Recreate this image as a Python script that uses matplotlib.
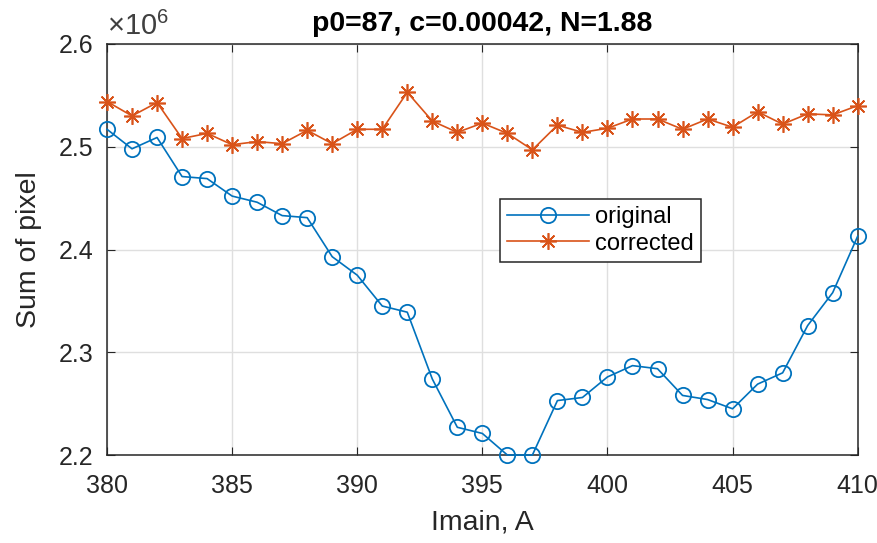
import numpy as np
import matplotlib
matplotlib.use("Agg")
import matplotlib.pyplot as plt

# Imain current, A
imain = np.arange(380, 411)

# sum of pixel, x1e6
original = [2.517, 2.498, 2.509, 2.471, 2.469, 2.452, 2.446, 2.433, 2.431, 2.393,
            2.375, 2.345, 2.339, 2.274, 2.227, 2.221, 2.200, 2.200, 2.253, 2.256,
            2.276, 2.287, 2.284, 2.258, 2.254, 2.245, 2.269, 2.280, 2.326, 2.358,
            2.413]
corrected = [2.544, 2.530, 2.543, 2.508, 2.513, 2.502, 2.505, 2.503, 2.516, 2.503,
             2.517, 2.517, 2.553, 2.525, 2.514, 2.523, 2.513, 2.497, 2.521, 2.514,
             2.518, 2.527, 2.527, 2.517, 2.527, 2.519, 2.534, 2.522, 2.532, 2.531,
             2.540]

plt.rcParams["font.family"] = ["Liberation Sans", "DejaVu Sans"]
plt.rcParams["mathtext.fontset"] = "custom"
plt.rcParams["mathtext.rm"] = "Liberation Sans"

fig = plt.figure(figsize=(8.77, 5.43), dpi=100)
ax = fig.add_axes([0.122, 0.162, 0.856, 0.757])

ax.plot(imain, original, "-o", color="#0072BD", lw=1.2, ms=11, mfc="none", mew=1.3,
        label="original", clip_on=False, zorder=3)
# MATLAB-like asterisk: 8 arms
ax.plot(imain, corrected, "-", marker=(8, 2, 0), color="#D95319", lw=1.2, ms=12,
        mew=1.2, label="corrected", clip_on=False, zorder=3)

ax.set_xlim(380, 410)
ax.set_ylim(2.2, 2.6)
ax.set_xticks(np.arange(380, 411, 5))
ax.set_yticks([2.2, 2.3, 2.4, 2.5, 2.6])
ax.set_yticklabels(["2.2", "2.3", "2.4", "2.5", "2.6"])
ax.grid(True, color="#dfdfdf", lw=1.0)
ax.set_axisbelow(True)
ax.tick_params(direction="in", length=6, labelsize=18, colors="#262626",
               top=True, right=True, labeltop=False, labelright=False)
ax.tick_params(axis="x", pad=14)
ax.tick_params(axis="y", pad=10)
for s in ax.spines.values():
    s.set_color("#262626")
    s.set_linewidth(1.1)

ax.set_xlabel("Imain, A", fontsize=20.5, color="#262626", labelpad=8)
ax.set_ylabel("Sum of pixel", fontsize=20.5, color="#262626", labelpad=12)
ax.set_title("p0=87, c=0.00042, N=1.88", fontsize=20.5, fontweight="bold", pad=9)
ax.text(0.0, 1.008, r"$\times10^{6}$", transform=ax.transAxes, fontsize=21,
        color="#404040", ha="left", va="bottom")

leg = ax.legend(loc="upper left", bbox_to_anchor=(0.523, 0.623), fontsize=17,
                fancybox=False, framealpha=1, edgecolor="#262626",
                handlelength=3.5, handletextpad=0.25, borderpad=0.3,
                labelspacing=0.2, borderaxespad=0)
leg.get_frame().set_linewidth(1.1)

fig.savefig("out.png", dpi=100)
